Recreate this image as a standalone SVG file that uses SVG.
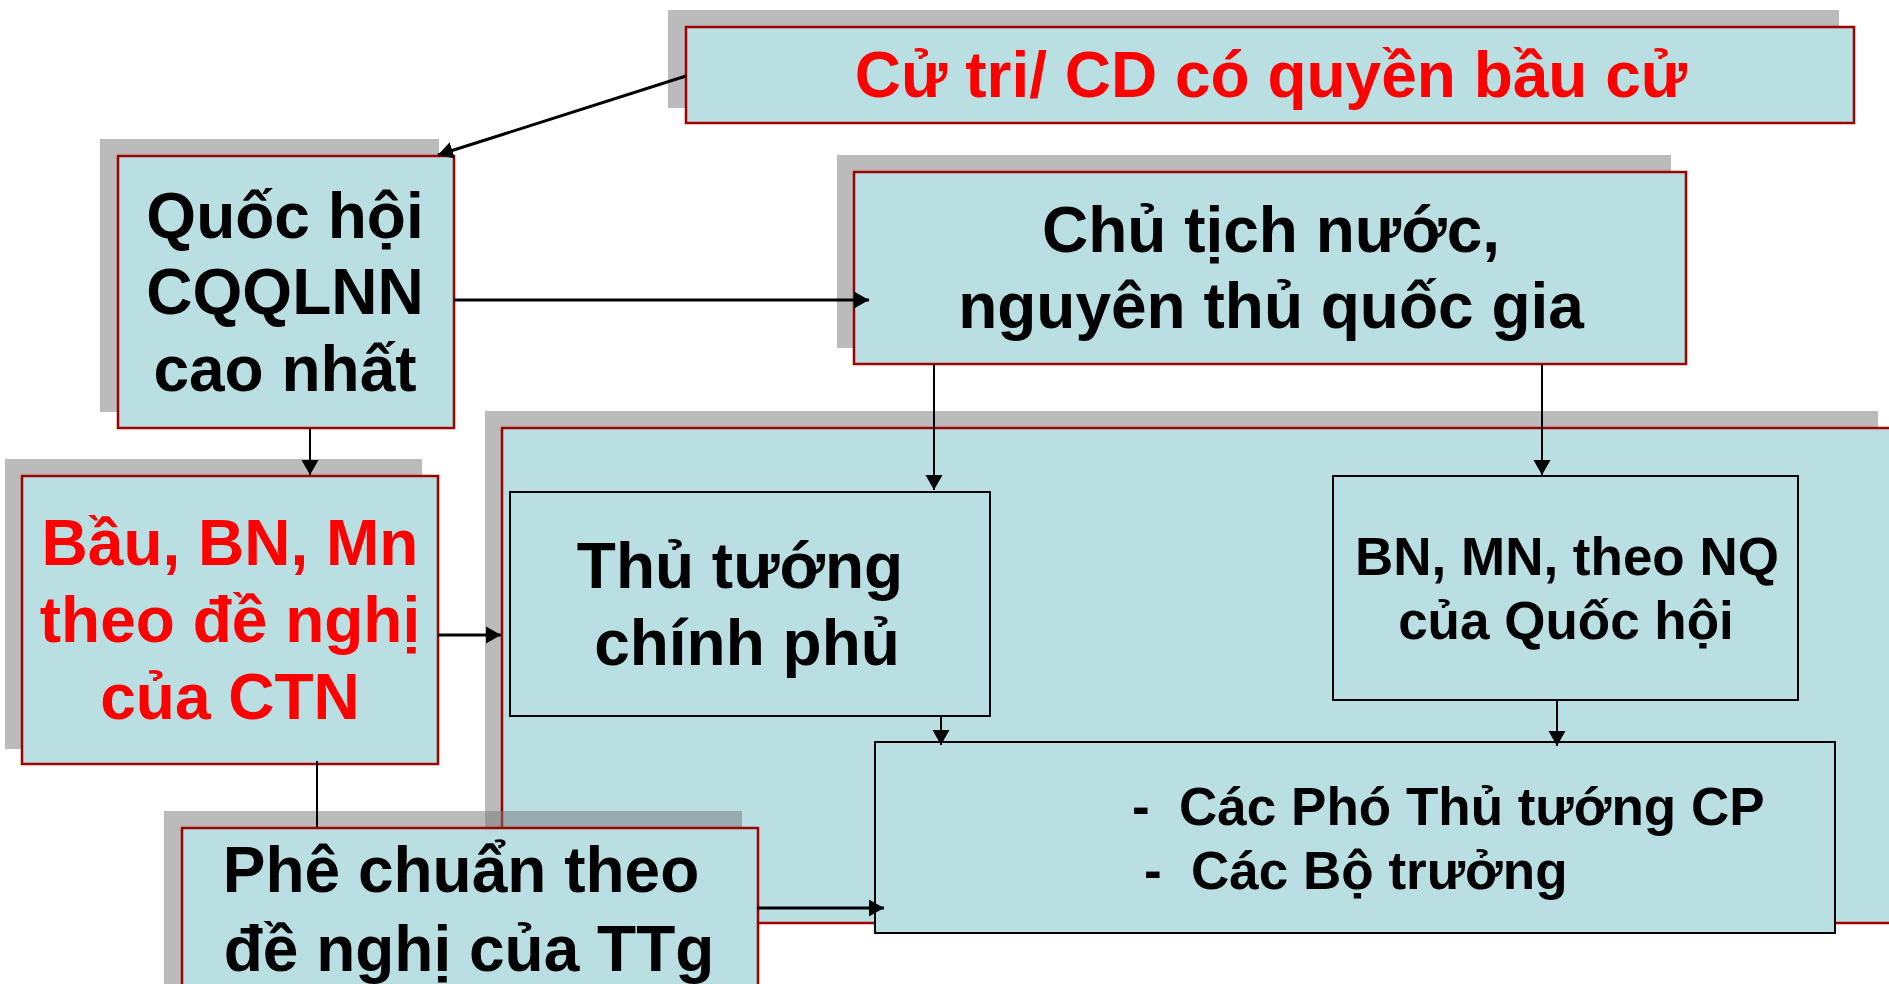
<svg xmlns="http://www.w3.org/2000/svg" width="1889" height="984" viewBox="0 0 1889 984">
<defs>
<style>
.sh{fill:#777777;fill-opacity:0.5}
.bx{fill:#b9dfe2;stroke:#a00000;stroke-width:2.5}
.ib{fill:#b9dfe2;stroke:#000000;stroke-width:2}
.t{font-family:"Liberation Sans",Arial,sans-serif;font-weight:bold;font-size:64px;fill:#000000;text-anchor:middle}
.s{font-size:53px}
.r{fill:#ff0000}
.c{fill:none;stroke:#000000;stroke-width:2}
.k{stroke-width:3}
</style>
<marker id="ah" markerUnits="userSpaceOnUse" markerWidth="16" markerHeight="18" refX="15" refY="9" orient="auto">
<path d="M0,0.5 L15,9 L0,17.5 z" fill="#000000"/>
</marker>
</defs>
<rect width="1889" height="984" fill="#ffffff"/>

<g id="top">
<rect class="sh" x="668" y="10" width="1171" height="98"/>
<rect class="bx" x="686" y="27" width="1168" height="96"/>
<text class="t r" x="1271" y="97">Cử tri/ CD có quyền bầu cử</text>
</g>

<g id="quochoi">
<rect class="sh" x="100" y="139" width="339" height="273"/>
<rect class="bx" x="118" y="156" width="336" height="272"/>
<text class="t" x="285" y="238">Quốc hội</text>
<text class="t" x="285" y="314">CQQLNN</text>
<text class="t" x="285" y="391">cao nhất</text>
</g>

<g id="chutich">
<rect class="sh" x="837" y="155" width="834" height="193"/>
<rect class="bx" x="854" y="172" width="832" height="192"/>
<text class="t" x="1271" y="252">Chủ tịch nước,</text>
<text class="t" x="1271" y="328">nguyên thủ quốc gia</text>
</g>

<g id="bau">
<rect class="sh" x="5" y="459" width="417" height="290"/>
<rect class="bx" x="22" y="476" width="416" height="288"/>
<text class="t r" x="230" y="565">Bầu, BN, Mn</text>
<text class="t r" x="230" y="642">theo đề nghị</text>
<text class="t r" x="230" y="719">của CTN</text>
</g>

<g id="chinhphu">
<rect class="sh" x="485" y="411" width="1393" height="495"/>
<rect class="bx" x="502" y="428" width="1400" height="495"/>
</g>

<g id="thutuong">
<rect class="ib" x="510" y="492" width="480" height="224"/>
<text class="t" x="740" y="588">Thủ tướng</text>
<text class="t" x="747" y="665">chính phủ</text>
</g>

<g id="bnmn">
<rect class="ib" x="1333" y="476" width="465" height="224"/>
<text class="t s" x="1567" y="575">BN, MN, theo NQ</text>
<text class="t s" x="1566" y="639">của Quốc hội</text>
</g>

<g id="cacpho">
<rect class="ib" x="875" y="742" width="960" height="191"/>
<text class="t s" x="1132" y="825" style="text-anchor:start" xml:space="preserve">-  Các Phó Thủ tướng CP</text>
<text class="t s" x="1144" y="889" style="text-anchor:start" xml:space="preserve">-  Các Bộ trưởng</text>
</g>

<g id="pheduyet">
<rect class="sh" x="164" y="811" width="578" height="200"/>
<rect class="bx" x="182" y="828" width="576" height="200"/>
<text class="t" x="461" y="892">Phê chuẩn theo</text>
<text class="t" x="469" y="971">đề nghị của TTg</text>
</g>

<g id="connectors">
<line class="c k" x1="686" y1="76" x2="438" y2="155" marker-end="url(#ah)"/>
<line class="c k" x1="454" y1="300" x2="869" y2="300" marker-end="url(#ah)"/>
<line class="c" x1="310" y1="428" x2="310" y2="475" marker-end="url(#ah)"/>
<line class="c k" x1="438" y1="635" x2="501" y2="635" marker-end="url(#ah)"/>
<line class="c" x1="317" y1="761" x2="317" y2="827"/>
<line class="c" x1="934" y1="364" x2="934" y2="490" marker-end="url(#ah)"/>
<line class="c" x1="1542" y1="364" x2="1542" y2="475" marker-end="url(#ah)"/>
<line class="c" x1="941" y1="716" x2="941" y2="745" marker-end="url(#ah)"/>
<line class="c" x1="1557" y1="700" x2="1557" y2="746" marker-end="url(#ah)"/>
<line class="c k" x1="757" y1="908" x2="884" y2="908" marker-end="url(#ah)"/>
</g>
</svg>
